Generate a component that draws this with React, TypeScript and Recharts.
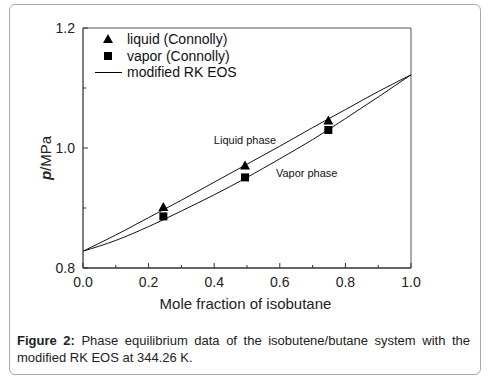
import React from 'react';
import {
  ComposedChart,
  Line,
  Scatter,
  XAxis,
  YAxis,
  ReferenceArea,
  ReferenceDot,
} from 'recharts';

// Connolly data points
const liquidX = [0.245, 0.494, 0.748];
const liquidP = [0.9, 0.969, 1.044];
const vaporX = [0.245, 0.494, 0.748];
const vaporP = [0.886, 0.951, 1.03];

// modified RK EOS curves (bubble / dew)
const curveX = [0, 0.1, 0.2, 0.3, 0.4, 0.5, 0.6, 0.7, 0.8, 0.9, 1.0];
const bubbleP = [0.828, 0.855, 0.884, 0.913, 0.943, 0.973, 1.003, 1.034, 1.064, 1.094, 1.122];
const dewP = [0.828, 0.846, 0.869, 0.895, 0.922, 0.951, 0.982, 1.014, 1.049, 1.085, 1.122];

const xTicks = [0, 0.1, 0.2, 0.3, 0.4, 0.5, 0.6, 0.7, 0.8, 0.9, 1.0];
const yTicks = [0.8, 0.9, 1.0, 1.1, 1.2];

const liquidData = liquidX.map((x, i) => ({ x, p: liquidP[i] }));
const vaporData = vaporX.map((x, i) => ({ x, p: vaporP[i] }));
const bubbleData = curveX.map((x, i) => ({ x, p: bubbleP[i] }));
const dewData = curveX.map((x, i) => ({ x, p: dewP[i] }));

const AXIS = '#555';
const TEXT = '#222';
const FONT = '"Liberation Sans", Arial, sans-serif';

const Triangle = (props: any) => {
  const { cx, cy } = props;
  return <polygon points={`${cx},${cy - 6} ${cx - 5},${cy + 3} ${cx + 5},${cy + 3}`} fill="#000" />;
};

const Square = (props: any) => {
  const { cx, cy } = props;
  return <rect x={cx - 4} y={cy - 4} width={8} height={8} fill="#000" />;
};

// tickSize is 0, so the axis sits tickMargin px from the label anchor; ticks point inward
const XTick = (props: any) => {
  const { x, y, payload, index } = props;
  const axisY = y - 8;
  const major = index % 2 === 0;
  return (
    <g>
      <line x1={x} x2={x} y1={axisY} y2={axisY - (major ? 5 : 3)} stroke="#333" strokeWidth={1} />
      {major && (
        <text x={x} y={axisY + 19} textAnchor="middle" fontSize={14} fill={TEXT} fontFamily={FONT}>
          {payload.value.toFixed(1)}
        </text>
      )}
    </g>
  );
};

const YTick = (props: any) => {
  const { x, y, payload, index } = props;
  const axisX = x + 8;
  const major = index % 2 === 0;
  return (
    <g>
      <line x1={axisX} x2={axisX + (major ? 5 : 3)} y1={y} y2={y} stroke="#333" strokeWidth={1} />
      {major && (
        <text x={x} y={y + 5} textAnchor="end" fontSize={14} fill={TEXT} fontFamily={FONT}>
          {payload.value.toFixed(1)}
        </text>
      )}
    </g>
  );
};

const LegendBox = () => (
  <div style={{ fontFamily: FONT, fontSize: 14, color: '#111', lineHeight: '16.5px' }}>
    <div style={{ display: 'flex', alignItems: 'center' }}>
      <svg width={32} height={16.5}><polygon points="13,3 8,12 18,12" fill="#000" /></svg>
      <span>liquid (Connolly)</span>
    </div>
    <div style={{ display: 'flex', alignItems: 'center' }}>
      <svg width={32} height={16.5}><rect x={9} y={4} width={8} height={8} fill="#000" /></svg>
      <span>vapor (Connolly)</span>
    </div>
    <div style={{ display: 'flex', alignItems: 'center' }}>
      <svg width={32} height={16.5}><line x1={0} x2={27} y1={8.5} y2={8.5} stroke="#000" /></svg>
      <span>modified RK EOS</span>
    </div>
  </div>
);

const App: React.FC = () => {
  return (
    <div style={{ position: 'absolute', left: 0, top: 0, width: 491, height: 382, background: '#fff' }}>
      <div
        style={{
          position: 'absolute',
          left: 9,
          top: 4,
          width: 470,
          height: 369,
          border: '1px solid #aaa',
          borderRadius: 6,
        }}
      />
      <div style={{ position: 'absolute', left: 0, top: 0 }}>
        <ComposedChart width={491} height={320} margin={{ top: 28, right: 80, left: 33, bottom: 22 }}>
          <XAxis
            type="number"
            dataKey="x"
            domain={[0, 1]}
            ticks={xTicks}
            interval={0}
            tickSize={0}
            tickMargin={8}
            tick={<XTick />}
            stroke="#222"
            height={30}
            allowDataOverflow
          />
          <YAxis
            type="number"
            dataKey="p"
            domain={[0.8, 1.2]}
            ticks={yTicks}
            interval={0}
            tickSize={0}
            tickMargin={8}
            tick={<YTick />}
            stroke={AXIS}
            width={50}
            allowDataOverflow
          />
          <ReferenceArea x1={0} x2={1} y1={0.8} y2={1.2} fill="none" stroke={AXIS} ifOverflow="visible" />
          <Line data={bubbleData} dataKey="p" type="monotone" stroke="#111" strokeWidth={1} dot={false} isAnimationActive={false} />
          <Line data={dewData} dataKey="p" type="monotone" stroke="#111" strokeWidth={1} dot={false} isAnimationActive={false} />
          <Scatter data={liquidData} dataKey="p" shape={<Triangle />} isAnimationActive={false} />
          <Scatter data={vaporData} dataKey="p" shape={<Square />} isAnimationActive={false} />
          <ReferenceDot
            x={0.494}
            y={1.013}
            r={0}
            label={{ value: 'Liquid phase', position: 'center', fontSize: 11, fill: '#111', fontFamily: FONT }}
          />
          <ReferenceDot
            x={0.682}
            y={0.958}
            r={0}
            label={{ value: 'Vapor phase', position: 'center', fontSize: 11, fill: '#111', fontFamily: FONT }}
          />
        </ComposedChart>
      </div>
      <div style={{ position: 'absolute', left: 95, top: 31 }}>
        <LegendBox />
      </div>
      <div
        style={{
          position: 'absolute',
          left: 0,
          top: 295,
          width: 491,
          textAlign: 'center',
          fontFamily: FONT,
          fontSize: 15,
          color: TEXT,
        }}
      >
        Mole fraction of isobutane
      </div>
      <div
        style={{
          position: 'absolute',
          left: 45,
          top: 158,
          transform: 'translate(-50%, -50%) rotate(-90deg)',
          fontFamily: FONT,
          fontSize: 15,
          color: TEXT,
          whiteSpace: 'nowrap',
        }}
      >
        <i style={{ fontWeight: 'bold' }}>p</i>/MPa
      </div>
      <div
        style={{
          position: 'absolute',
          left: 17,
          top: 332,
          width: 453,
          fontFamily: FONT,
          fontSize: 13,
          lineHeight: '17px',
          color: TEXT,
        }}
      >
        <div style={{ textAlign: 'justify', textAlignLast: 'justify' }}>
          <b>Figure 2:</b> Phase equilibrium data of the isobutene/butane system with the
        </div>
        <div>modified RK EOS at 344.26 K.</div>
      </div>
    </div>
  );
};

export default App;
